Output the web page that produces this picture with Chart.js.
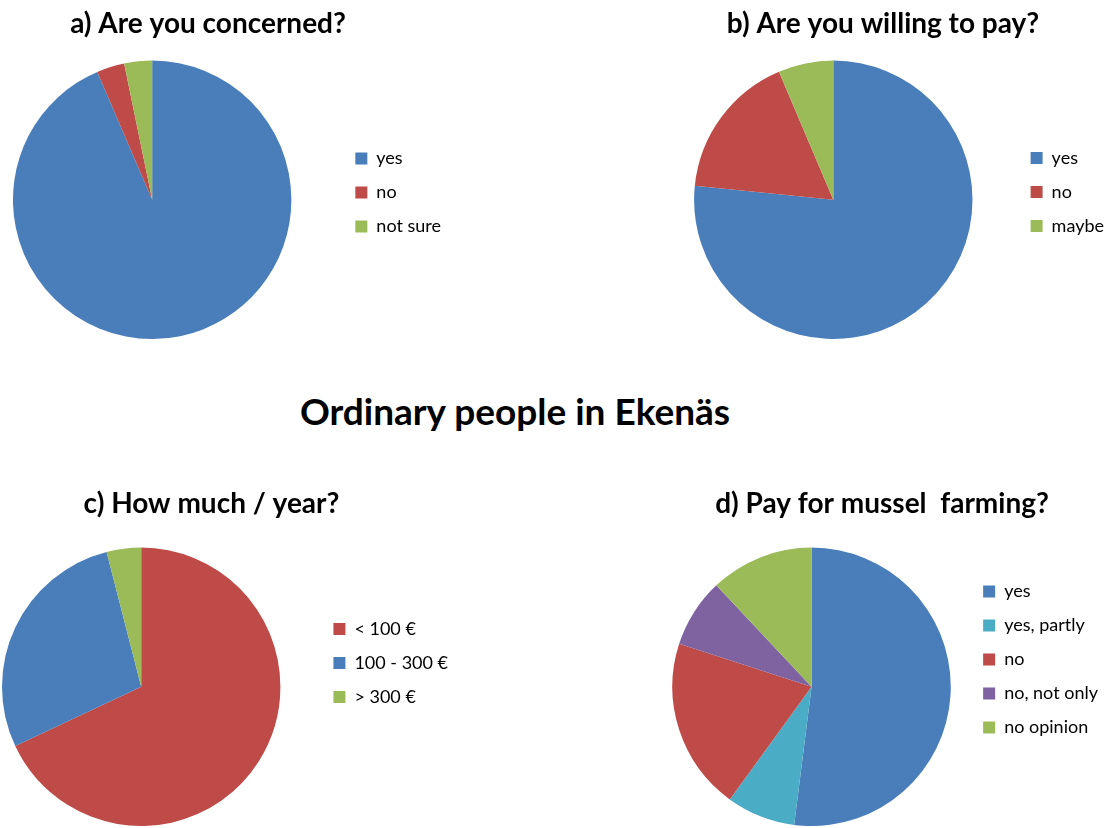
<!DOCTYPE html>
<html>
<head>
<meta charset="utf-8">
<script src="https://cdn.jsdelivr.net/npm/chart.js@4/dist/chart.umd.min.js"></script>
<style>
  html, body { margin: 0; padding: 0; background: #fff; }
  body { width: 1110px; height: 828px; position: relative; overflow: hidden; }
  canvas { position: absolute; }
  #mainTitle {
    position: absolute; left: 0; top: 392px; width: 1030px; height: 37px;
    text-align: center; font: bold 37px Lato, sans-serif; line-height: 37px; color: #000;
  }
</style>
</head>
<body>
<canvas id="concernChart" width="486" height="339" style="left:-35px; top:0px;"></canvas>
<canvas id="payChart" width="462" height="339" style="left:652px; top:0px;"></canvas>
<div id="mainTitle">Ordinary people in Ekenäs</div>
<canvas id="amountChart" width="493" height="346" style="left:-35px; top:480px;"></canvas>
<canvas id="musselChart" width="452" height="346" style="left:656px; top:480px;"></canvas>
<script>
// survey answers
const concernLabels = ['yes', 'no', 'not sure'];
const concernValues = [29, 1, 1];

const payLabels = ['yes', 'no', 'maybe'];
const payValues = [36, 8, 3];

const amountLabels = ['< 100 €', '100 - 300 €', '> 300 €'];
const amountValues = [17, 7, 1];

const musselLabels = ['yes', 'yes, partly', 'no', 'no, not only', 'no opinion'];
const musselValues = [26, 4, 10, 4, 6];

const BLUE = '#4A7EBB', RED = '#BE4B48', GREEN = '#9BBB59', PURPLE = '#7F63A1', TEAL = '#4BACC6';

// moves the legend column up/down after layout
const legendNudge = {
    id: 'legendNudge',
    afterLayout(chart, args, opts) {
        const dy = opts.dy || 0;
        if (chart.legend && dy) {
            chart.legend.top += dy;
            chart.legend.bottom += dy;
        }
    }
};

function makePie(id, title, labels, values, colors, titlePad, dy) {
    const ctx = document.getElementById(id).getContext('2d');
    return new Chart(ctx, {
        type: 'pie',
        data: {
            labels: labels,
            datasets: [{
                data: values,
                backgroundColor: colors,
                borderWidth: 0
            }]
        },
        options: {
            responsive: false,
            animation: false,
            layout: { padding: 0 },
            plugins: {
                title: {
                    display: true,
                    text: title,
                    color: '#000',
                    font: { family: 'Lato, sans-serif', size: 28, weight: 'bold', lineHeight: 1.2 },
                    padding: titlePad
                },
                legend: {
                    position: 'right',
                    align: 'center',
                    labels: {
                        boxWidth: 12,
                        boxHeight: 12,
                        padding: 16,
                        color: '#000',
                        font: { family: 'Lato, sans-serif', size: 18 }
                    }
                },
                tooltip: { enabled: false },
                legendNudge: { dy: dy }
            }
        },
        plugins: [legendNudge]
    });
}

makePie('concernChart', 'a) Are you concerned?', concernLabels, concernValues,
    [BLUE, RED, GREEN], { top: 7, bottom: 20 }, 23);
makePie('payChart', 'b) Are you willing to pay?', payLabels, payValues,
    [BLUE, RED, GREEN], { top: 7, bottom: 20 }, 22.5);
makePie('amountChart', 'c) How much / year?', amountLabels, amountValues,
    [RED, BLUE, GREEN], { top: 7, bottom: 27 }, 10);
makePie('musselChart', 'd) Pay for mussel  farming?', musselLabels, musselValues,
    [BLUE, TEAL, RED, PURPLE, GREEN], { top: 7, bottom: 27 }, 6.5);
</script>
</body>
</html>
